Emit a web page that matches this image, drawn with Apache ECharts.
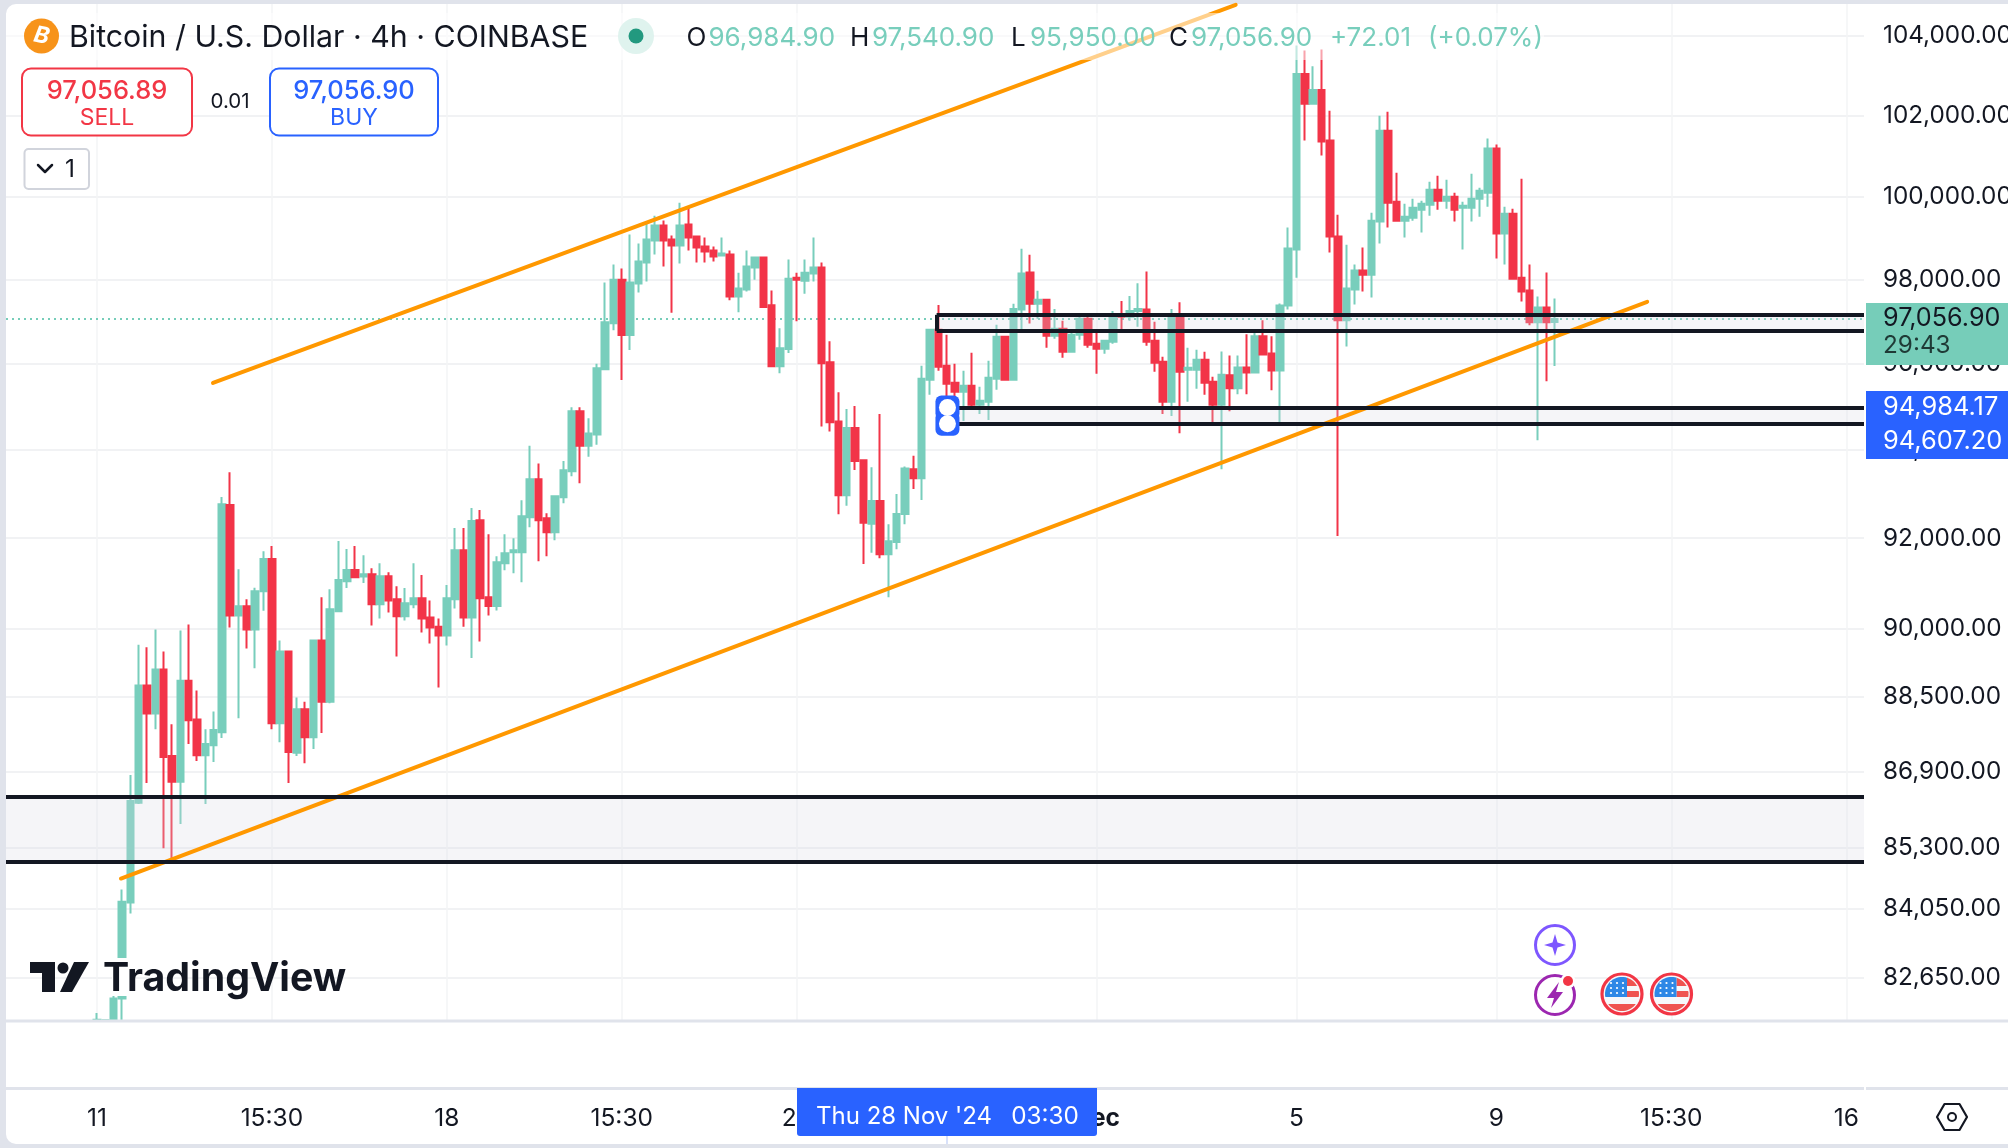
<!DOCTYPE html>
<html>
<head>
<meta charset="utf-8">
<style>
html,body{margin:0;padding:0;width:2008px;height:1148px;overflow:hidden;background:#e0e3eb}
#panel{position:absolute;left:6px;top:4px;width:2002px;height:1140px;background:#fff;border-top-left-radius:10px;border-bottom-left-radius:10px}
#chart{position:absolute;left:0;top:0;width:2008px;height:1148px}
</style>
<script src="https://cdn.jsdelivr.net/npm/echarts@6/dist/echarts.min.js"></script>
</head>
<body>
<div id="panel"></div>
<div id="chart"></div>
<script>
const opens=[81776,81776,81776,82226,84175,86248,88750,88150,89100,87241,86691,88858,88020,87257,87468,87744,92749,90281,90486,89974,90819,91535,87939,89491,87306,88240,87639,89733,88402,90375,91041,91288,91143,91194,90529,91152,90640,90264,90529,90665,90239,90034,89841,90640,91732,90239,92403,90684,90491,91442,91688,91688,92474,93331,92452,92135,92925,93518,94895,94101,94358,95875,96957,97992,96675,97899,98401,98932,99293,98955,98811,99317,99028,98787,98691,98570,98594,97592,97757,98281,98522,97381,95945,96345,98040,97968,98137,98281,96039,94661,92970,94506,93766,92325,92838,91643,91918,92543,93562,93358,95626,96800,95953,95556,95346,95486,95043,95113,95650,96636,95626,97278,98166,97420,97514,96659,96824,96282,96682,97059,96470,96353,96518,97176,97106,97247,97278,96541,96047,95113,97129,95860,95860,96094,95580,95043,95730,95429,95915,95799,96646,96244,95846,97378,98714,103033,102289,102636,101374,99028,97024,97756,98209,98112,99390,101621,99872,99413,99486,99678,99799,100165,99896,99992,99727,99727,99944,100091,101177,99100,99582,98040,97732,96976,97331,96984.9];
const highs=[81934,81776,82290,84442,86836,89641,89583,89974,89491,87915,89949,90085,88642,87809,88191,92930,93492,91305,90640,90896,91706,91826,89733,89510,88492,88402,89750,90682,90862,91936,91757,91826,91621,91331,91442,91237,90930,90887,91442,91177,90614,90213,90955,92230,92230,92680,92636,92090,91598,92090,92000,92857,94098,93692,92564,92970,93751,94988,94988,94731,96000,97921,98353,98257,99075,98859,99389,99534,99414,99052,99847,99750,99040,99004,98787,99004,98691,98160,98691,98522,98546,97733,96839,98473,98160,98473,99004,98401,96529,95338,94949,95019,93789,93607,94833,92317,92996,93622,93869,95953,96810,97388,96682,96000,95837,96257,95463,96070,96918,96659,97420,98735,98592,97726,97514,97294,97012,96800,97106,97106,96729,96565,97247,97482,97600,97906,98190,96988,96165,97294,97451,96376,96329,96282,95697,96291,96197,96197,96693,96787,97024,96646,97425,99245,103751,103627,103231,103652,102116,99558,98830,98353,98763,99606,101992,102091,100584,99823,99943,99896,100362,100510,100411,100091,99872,100560,100214,101424,101276,99751,99703,100432,98353,97591,98161,97540.9];
const lows=[81776,81776,81776,81776,83949,86224,86667,87809,85297,85014,85805,87493,87135,86224,87111,87623,90017,88045,89558,89125,90384,87809,87533,86667,87241,87087,87387,87728,88370,90358,90887,91109,90998,90060,90213,90350,89383,90171,90444,89908,89666,88708,89625,90435,90034,89350,89708,90283,90394,91286,91219,91019,92248,91487,91598,91955,92790,93400,93241,93850,94125,95875,96792,95619,96322,97686,97945,98594,98305,97201,98377,98691,98401,98401,98425,98546,97498,97216,97709,97992,97318,95945,95782,96251,97004,97654,97945,94545,94428,92542,92732,93547,91426,91673,91554,90683,91755,92317,93109,92860,95276,95836,95183,95144,94669,94926,94833,94693,95393,95626,95626,96800,96949,97059,96376,96588,96141,96282,96565,96376,95766,96235,96470,96753,97012,96871,96423,95813,94833,94786,94389,95113,95416,95276,94646,93562,94896,95290,95290,95776,96221,95382,94633,97283,98040,101374,102289,101004,98642,92050,96409,97401,97709,97567,98860,99245,99390,99004,99413,99124,99534,99678,99703,99390,98714,99390,99510,99751,98498,98353,97992,97472,96905,94224,95591,95950];
const closes=[81800,81790,82226,84191,86288,88750,88150,89100,87217,86691,88858,88004,87257,87493,87793,92766,90281,90486,89974,90819,91535,87939,89491,87322,88240,87639,89733,88402,90418,91066,91288,91126,91194,90529,91152,90614,90264,90554,90665,90213,90017,89841,90665,91732,90239,92386,90665,90491,91465,91665,91732,92496,93331,92406,92135,92947,93541,94895,94101,94381,95899,96980,97992,96675,97922,98425,98955,99293,98932,98811,99293,99004,98763,98666,98546,98618,97592,97781,98305,98522,97341,95945,96365,98016,97992,98160,98281,96016,94638,92970,94506,93751,92347,92838,91643,91933,92543,93577,93358,95650,96800,95930,95533,95346,95486,95043,95136,95673,96636,95626,97294,98142,97420,97514,96659,96824,96282,96682,97059,96447,96353,96541,97176,97106,97247,97294,96518,96024,95113,97129,95813,95907,96094,95556,95043,95743,95429,95915,95799,96646,96221,95846,97378,98739,103033,102289,102636,101350,99028,97024,97779,98209,98112,99413,101621,99847,99413,99510,99727,99823,100165,99896,99992,99678,99775,99944,100140,101177,99100,99582,98016,97709,96976,97331,96976,97056.9];

const priceTicks=[104000,102000,100000,98000,96000,94000,92000,90000,88500,86900,85300,84050,82650];
const timeTickIdx=[0,21,42,63,84,120,144,168,189,210];
const timeTickLabels=['11','15:30','18','15:30','25','Dec','5','9','15:30','16'];

const lastPrice=97056.9;
const channelUpper=[[13.93,95553],[136.7,104790]];
const channelLower=[[2.88,84669],[186.1,97464]];
const xMin=-10.92,xMax=212.13,yMin=81776,yMax=104810;
const zoneA=[xMin,86373,85018];
const zoneB=[100.8,97154,96775];
const zoneC=[102.1,94984.17,94607.2];

const candle=opens.map((o,i)=>[i,o,closes[i],lows[i],highs[i]]);
const GREEN='#78cebc',RED='#f23448',INK='#131722',BLUE='#2962ff',FONT='Inter, "Noto Sans", sans-serif';
const fmt=v=>v.toLocaleString('en-US',{minimumFractionDigits:2,maximumFractionDigits:2});

function zoneSeries(z,name){
  const s=z[0],t=z[1],b=z[2];
  const edges=[
    [{xAxis:s,yAxis:t},{xAxis:xMax,yAxis:t}],
    [{xAxis:s,yAxis:b},{xAxis:xMax,yAxis:b}]
  ];
  if(s>xMin) edges.push([{xAxis:s,yAxis:t},{xAxis:s,yAxis:b}]);
  return {
    type:'line',name:name,data:[],z:6,silent:true,symbol:'none',
    markArea:{silent:true,z:5,itemStyle:{color:'rgba(215,215,228,0.25)'},label:{show:false},
      data:[[{xAxis:s,yAxis:t},{xAxis:xMax,yAxis:b}]]},
    markLine:{silent:true,z:6,symbol:'none',label:{show:false},animation:false,
      lineStyle:{color:INK,width:4,type:'solid'},
      data:edges}
  };
}
function lineSeries(name,pts){
  return {type:'line',name:name,data:pts,symbol:'none',z:5,silent:true,
    lineStyle:{color:'#ff9800',width:4,cap:'round'}};
}

/* ---------- overlay furniture ---------- */
const g=[];
const T=(x,y,s,size,color,align,weight)=>g.push({type:'text',z:100,silent:true,x:x,y:y,
  style:{text:s,font:(weight||400)+' '+size+'px '+FONT,fill:color,textAlign:align||'left',textVerticalAlign:'middle'}});
const R=(x,y,w,h,fill,opt)=>g.push(Object.assign({type:'rect',z:90,silent:true,shape:{x:x,y:y,width:w,height:h,r:(opt&&opt.r)||0},
  style:{fill:fill,stroke:(opt&&opt.stroke)||null,lineWidth:(opt&&opt.lw)||0,opacity:(opt&&opt.op)==null?1:opt.op}},{}));
const C=(x,y,r,fill,stroke,lw,z)=>g.push({type:'circle',z:z||95,silent:true,shape:{cx:x,cy:y,r:r},style:{fill:fill,stroke:stroke||null,lineWidth:lw||0}});
const P=(pts,fill,stroke,lw,z)=>g.push({type:'polygon',z:z||96,silent:true,shape:{points:pts},style:{fill:fill,stroke:stroke||null,lineWidth:lw||0}});
const L=(pts,stroke,lw,z)=>g.push({type:'polyline',z:z||96,silent:true,shape:{points:pts},style:{fill:null,stroke:stroke,lineWidth:lw,lineCap:'round',lineJoin:'round'}});

// legend veil over the plot
R(6,13,1538,47,'#ffffff',{op:0.55});
// title row
C(41.5,36,17.5,'#f7931a');
g.push({type:'text',z:100,silent:true,x:41.5,y:36,rotation:-0.2,style:{text:'B',font:'italic 700 23px '+FONT,fill:'#fff',textAlign:'center',textVerticalAlign:'middle'}});
T(69,38,'Bitcoin / U.S. Dollar · 4h · COINBASE',30.3,INK);
C(636,36,18,'#dff3ee');C(636,36,7.5,'#22997f');
T(686.5,38,'O',26,INK);T(708.5,38,'96,984.90',26,GREEN);
T(850,38,'H',26,INK);T(872,38,'97,540.90',26,GREEN);
T(1011,38,'L',26,INK);T(1030,38,'95,950.00',26,GREEN);
T(1169,38,'C',26,INK);T(1191,38,'97,056.90',26,GREEN);
T(1330,38,'+72.01',26,GREEN);T(1428,38,'(+0.07%)',26,GREEN);
// sell / buy
R(22,68.5,170,67,'#fff',{stroke:'#f23645',lw:2,r:9});
T(107,91,'97,056.89',25.5,'#f23645','center',500);T(107,118.5,'SELL',23,'#f23645','center');
T(230,102,'0.01',20.5,INK,'center');
R(270,68.5,168,67,'#fff',{stroke:BLUE,lw:2,r:9});
T(354,91,'97,056.90',25.5,BLUE,'center',500);T(354,118.5,'BUY',23,BLUE,'center');
R(24.5,149,64.5,40,'#fff',{stroke:'#d1d4dc',lw:2,r:4});
L([[38,165],[45,172],[52,165]],INK,2.5);
T(65,170,'1',24.5,INK);
// watermark
R(112,958,20,38,'#fff');
P([[30,962],[55,962],[55,992],[42,992],[42,973],[30,973]],INK);
C(63,968,5.5,INK);
P([[74,962],[89,962],[72,992],[60,992]],INK);
T(103,979,'TradingView',39.3,INK,'left',700);
// right price tags
R(1866,303,142,62,'#76cdb9');
T(1883,318.5,'97,056.90',25.2,INK);T(1883,346,'29:43',24.3,'#1f3a36');
R(1866,391,142,68,BLUE);
T(1883,407,'94,984.17',25.4,'#fff');T(1883,441,'94,607.20',25.4,'#fff');
// pane separators
R(6,1019.5,2002,3,'#e0e3eb');
R(6,1087,1858,3,'#e0e3eb');R(1866,1087,142,3,'#e0e3eb');
// time tag
R(797,1088,300,48,BLUE,{r:[0,0,3,3]});
T(816,1117,"Thu 28 Nov '24",24,'#fff');T(1045,1117,'03:30',24.3,'#fff','center');
R(946.5,1136,1,8,'#b2c4f5');
// settings hexagon
L([[1937,1117],[1944.5,1104],[1959.5,1104],[1967,1117],[1959.5,1130],[1944.5,1130],[1937,1117]],INK,2.2);
C(1952,1117,4,'#fff',INK,2);
// event badges
C(1555,945,19.5,'#fff','#7e57ff',3);
P([[1555,934],[1557.5,942.5],[1566,945],[1557.5,947.5],[1555,956],[1552.5,947.5],[1544,945],[1552.5,942.5]],'#7e57ff');
C(1555,995,19.5,'#fff','#9c27b0',3);
P([[1559,982],[1547,998],[1554,998],[1551,1008],[1563,992],[1556,992]],'#9c27b0');
C(1568,981,7.5,'#fff');C(1568,981,5,'#f23645');
function clip(cx,cy,r,x0,y0,x1,y1,fill){
  const pts=[];
  for(let a=0;a<360;a+=6){
    const px=Math.cos(a*Math.PI/180)*r,py=Math.sin(a*Math.PI/180)*r;
    pts.push([cx+Math.min(x1,Math.max(x0,px)),cy+Math.min(y1,Math.max(y0,py))]);
  }
  P(pts,fill);
}
function flag(cx,cy){
  C(cx,cy,20,'#f7f8fa','#f23645',3.2);
  clip(cx,cy,17,5,-17,17,-8,'#ef5350');
  clip(cx,cy,17,5,-3,17,3,'#ef5350');
  clip(cx,cy,17,-17,10,17,17,'#ef5350');
  clip(cx,cy,17,-17,-17,5,3,'#2e88e6');
  [-11,-5,1].forEach(dx=>[-11,-6,-1].forEach(dy=>C(cx+dx,cy+dy,1.1,'#fff',null,0,97)));
}
flag(1622,994);flag(1671.5,994);

/* ---------- chart ---------- */
const chart=echarts.init(document.getElementById('chart'),null,{width:2008,height:1148});
chart.setOption({
  animation:false,
  backgroundColor:'transparent',
  textStyle:{fontFamily:FONT},
  grid:{left:6,top:4,width:1858,height:1017,containLabel:false,outerBoundsMode:'none'},
  xAxis:{type:'value',min:xMin,max:xMax,position:'bottom',
    axisLine:{show:false},
    axisTick:{show:false,customValues:timeTickIdx},
    splitLine:{show:true,lineStyle:{color:'#f3f4f6',width:1.5}},
    axisLabel:{show:true,margin:85,fontSize:24.5,color:INK,fontFamily:FONT,
      customValues:timeTickIdx,
      formatter:v=>{const k=timeTickIdx.indexOf(v);const s=timeTickLabels[k];return s==='Dec'?'{b|Dec}':s;},
      rich:{b:{fontWeight:700,fontSize:24.5,color:INK,fontFamily:FONT}}}},
  yAxis:{type:'log',logBase:10,min:yMin,max:yMax,position:'right',
    axisLine:{show:false},
    axisTick:{show:false,customValues:priceTicks},
    splitLine:{show:true,lineStyle:{color:'#f1f2f4',width:2}},
    axisLabel:{show:true,margin:19,fontSize:24.3,color:INK,fontFamily:FONT,align:'left',
      customValues:priceTicks,formatter:v=>fmt(v)}},
  graphic:{elements:g},
  series:[
    {type:'line',name:'Last price',data:[[xMin,lastPrice],[xMax,lastPrice]],symbol:'none',z:1,silent:true,
      lineStyle:{color:'#76cdb9',width:2,type:[2,4]}},
    {type:'candlestick',name:'BTCUSD 4h',data:candle,barWidth:7,z:3,
      itemStyle:{color:GREEN,color0:RED,borderColor:GREEN,borderColor0:RED,borderWidth:2}},
    lineSeries('Channel upper',channelUpper),
    lineSeries('Channel lower',channelLower),
    zoneSeries(zoneA,'Zone A'),
    zoneSeries(zoneB,'Zone B'),
    zoneSeries(zoneC,'Zone C'),
    {type:'scatter',name:'Handle base',z:8,silent:true,data:[[zoneC[0],zoneC[1]],[zoneC[0],zoneC[2]]],symbol:'roundRect',symbolSize:24,
      itemStyle:{color:BLUE,opacity:1}},
    {type:'scatter',name:'Handle hole',z:9,silent:true,data:[[zoneC[0],zoneC[1]],[zoneC[0],zoneC[2]]],symbol:'circle',symbolSize:17,
      itemStyle:{color:'#fff',opacity:1}}
  ]
});
</script>
</body>
</html>
